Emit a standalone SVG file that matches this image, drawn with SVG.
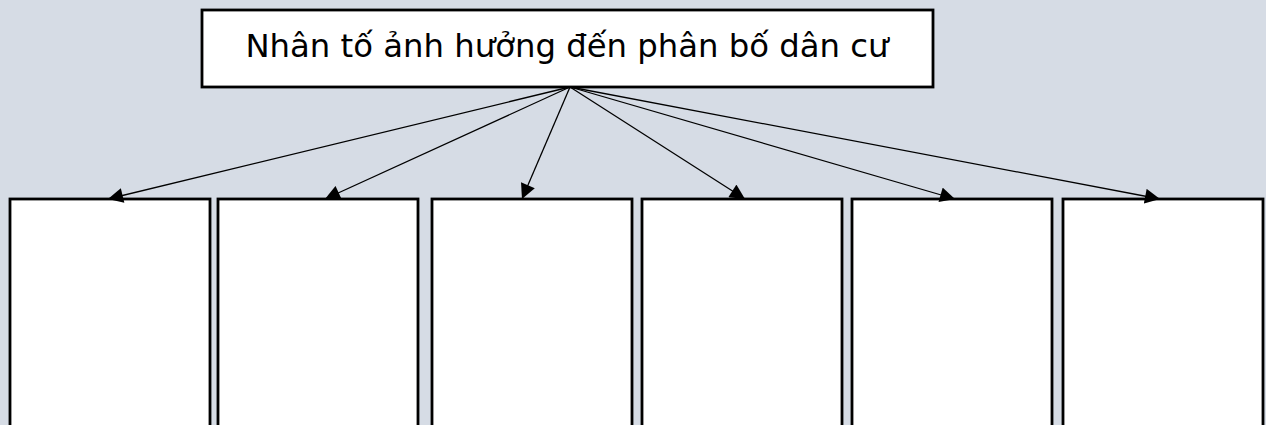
<svg xmlns="http://www.w3.org/2000/svg" width="1266" height="425" viewBox="0 0 1266 425">
<style>
.box{fill:#ffffff;stroke:#000000;stroke-width:2.8}
.lbl{font-family:"DejaVu Sans",Verdana,sans-serif;font-size:32.3px;fill:#000000}
.con{stroke:#000000;stroke-width:1.3;fill:none;marker-end:url(#ah)}
</style>
<defs>
<marker id="ah" viewBox="0 0 10 10" refX="10" refY="5" markerWidth="16" markerHeight="15" markerUnits="userSpaceOnUse" orient="auto">
<path d="M0,0 L10,5 L0,10 z" fill="#000000"/>
</marker>
</defs>
<rect x="0" y="0" width="1266" height="425" fill="#d6dce5"/>
<g id="title">
<rect class="box" x="202" y="10" width="731" height="77"/>
<text class="lbl" x="567" y="57" text-anchor="middle">Nhân tố ảnh hưởng đến phân bố dân cư</text>
</g>
<g id="box1"><rect class="box" x="10" y="199" width="200" height="240"/></g>
<g id="box2"><rect class="box" x="218" y="199" width="200" height="240"/></g>
<g id="box3"><rect class="box" x="432" y="199" width="200" height="240"/></g>
<g id="box4"><rect class="box" x="642" y="199" width="200" height="240"/></g>
<g id="box5"><rect class="box" x="852" y="199" width="200" height="240"/></g>
<g id="box6"><rect class="box" x="1063" y="199" width="200" height="240"/></g>
<g id="connectors">
<line class="con" x1="570" y1="87" x2="108" y2="199"/>
<line class="con" x1="570" y1="87" x2="325" y2="199"/>
<line class="con" x1="570" y1="87" x2="522" y2="199"/>
<line class="con" x1="570" y1="87" x2="745" y2="199"/>
<line class="con" x1="570" y1="87" x2="955" y2="199"/>
<line class="con" x1="570" y1="87" x2="1160" y2="199"/>
</g>
</svg>
